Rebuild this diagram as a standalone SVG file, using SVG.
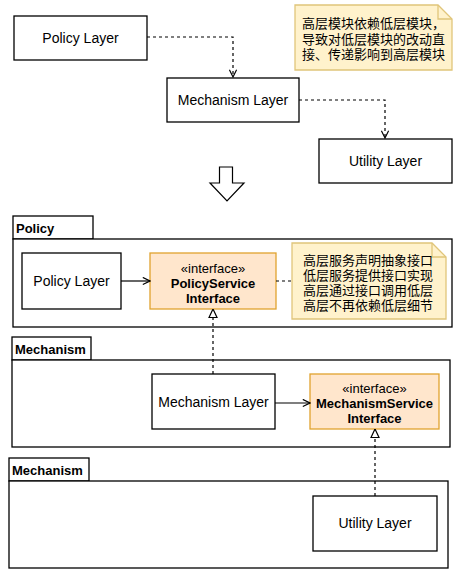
<svg xmlns="http://www.w3.org/2000/svg" width="467" height="579" viewBox="0 0 467 579">
<defs>
<style>
.box{fill:#fff;stroke:#000;stroke-width:1.3}
.iface{fill:#ffe6cc;stroke:#e0a32e;stroke-width:1.3}
.note{fill:#fff2cc;stroke:#e0c57a;stroke-width:1.3}
.pkg{fill:#fff;stroke:#000;stroke-width:1.3}
.t{font-family:"Liberation Sans",Arial,sans-serif;font-size:14px;fill:#000;text-anchor:middle}
.ti{font-family:"Liberation Sans",Arial,sans-serif;font-size:13px;fill:#000;text-anchor:middle}
.b{font-weight:bold}
.pl{font-family:"Liberation Sans",Arial,sans-serif;font-size:13px;font-weight:bold;fill:#000}
.cn{font-family:"Liberation Sans","Noto Sans CJK SC",sans-serif;font-size:13px;fill:#000}
.dash{fill:none;stroke:#000;stroke-width:1.2;stroke-dasharray:3,3}
.solid{fill:none;stroke:#000;stroke-width:1.2}
</style>
<marker id="open" viewBox="0 0 10 10" refX="9" refY="5" markerWidth="9" markerHeight="9" markerUnits="userSpaceOnUse" orient="auto">
<path d="M1,1 L9,5 L1,9" fill="none" stroke="#000" stroke-width="1.3"/>
</marker>
<marker id="tri" viewBox="0 0 10 10" refX="9.5" refY="5" markerWidth="10" markerHeight="10" markerUnits="userSpaceOnUse" orient="auto">
<path d="M1,1 L9.5,5 L1,9 Z" fill="#fff" stroke="#000" stroke-width="1.2"/>
</marker>
</defs>
<rect width="467" height="579" fill="#fff"/>

<g id="top-policy-layer">
<rect class="box" x="14" y="16" width="133" height="44"/>
<text class="t" x="80.5" y="43">Policy Layer</text>
</g>
<g id="top-mechanism-layer">
<rect class="box" x="167" y="78" width="132" height="44"/>
<text class="t" x="233" y="105">Mechanism Layer</text>
</g>
<g id="top-utility-layer">
<rect class="box" x="319" y="139" width="133" height="44"/>
<text class="t" x="385.5" y="166">Utility Layer</text>
</g>
<g id="note-top">
<path class="note" d="M295,5 H438 L452,19 V70 H295 Z"/>
<path d="M438,5 V19 H452" fill="none" stroke="#e0c57a" stroke-width="1.3"/>
<text class="cn" x="302" y="28">高层模块依赖低层模块，<tspan x="302" dy="15.5">导致对低层模块的改动直</tspan><tspan x="302" dy="15.5">接、传递影响到高层模块</tspan></text>
</g>
<g id="big-arrow">
<path d="M219.5,167 H232.5 V183 H244 L227,201 L210,183 H219.5 Z" fill="#fff" stroke="#000" stroke-width="1.2"/>
</g>

<g id="pkg-policy">
<rect class="pkg" x="13" y="216" width="80" height="23"/>
<rect class="pkg" x="13" y="239" width="439" height="88"/>
<text class="pl" x="16" y="233">Policy</text>
</g>
<g id="policy-layer">
<rect class="box" x="22" y="253" width="99" height="56"/>
<text class="t" x="71.5" y="286">Policy Layer</text>
</g>
<g id="policy-service-interface">
<rect class="iface" x="150" y="253" width="126" height="56"/>
<text class="ti" x="213" y="273">«interface»<tspan class="b" x="213" dy="15">PolicyService</tspan><tspan class="b" x="213" dy="15">Interface</tspan></text>
</g>
<g id="note-policy">
<path class="note" d="M292,243 H432 L446,257 V319 H292 Z"/>
<path d="M432,243 V257 H446" fill="none" stroke="#e0c57a" stroke-width="1.3"/>
<text class="cn" x="303" y="265">高层服务声明抽象接口<tspan x="303" dy="15">低层服务提供接口实现</tspan><tspan x="303" dy="15">高层通过接口调用低层</tspan><tspan x="303" dy="15">高层不再依赖低层细节</tspan></text>
</g>

<g id="pkg-mechanism">
<rect class="pkg" x="12" y="337" width="79" height="23"/>
<rect class="pkg" x="12" y="360" width="438" height="87"/>
<text class="pl" x="15" y="354">Mechanism</text>
</g>
<g id="mechanism-layer">
<rect class="box" x="152" y="374" width="123" height="55"/>
<text class="t" x="213.5" y="407">Mechanism Layer</text>
</g>
<g id="mechanism-service-interface">
<rect class="iface" x="310" y="374" width="129" height="55"/>
<text class="ti" x="374.5" y="393">«interface»<tspan class="b" x="374.5" dy="15">MechanismService</tspan><tspan class="b" x="374.5" dy="15">Interface</tspan></text>
</g>

<g id="pkg-mechanism-2">
<rect class="pkg" x="9" y="458" width="80" height="23"/>
<rect class="pkg" x="9" y="481" width="439" height="87"/>
<text class="pl" x="12" y="475">Mechanism</text>
</g>
<g id="utility-layer">
<rect class="box" x="313" y="496" width="124" height="55"/>
<text class="t" x="375" y="528">Utility Layer</text>
</g>

<g id="connectors">
<path class="dash" d="M147,37 H233 V77" marker-end="url(#open)"/>
<path class="dash" d="M299,100 H385 V138" marker-end="url(#open)"/>
<path class="solid" d="M121,281 H150" marker-end="url(#open)"/>
<path class="dash" d="M276,281 H292"/>
<path class="dash" d="M213,374 V309" marker-end="url(#tri)"/>
<path class="solid" d="M275,403 H310" marker-end="url(#open)"/>
<path class="dash" d="M375,496 V429" marker-end="url(#tri)"/>
</g>
</svg>
